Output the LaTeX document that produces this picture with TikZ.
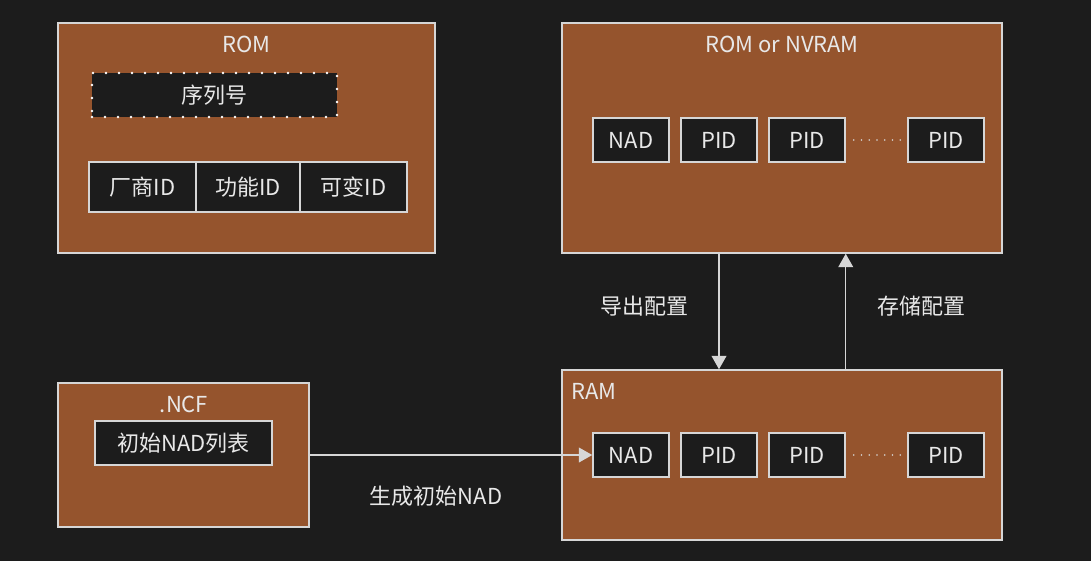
\documentclass[tikz,border=0pt]{standalone}
\usepackage{fontspec}
\setmainfont{Noto Sans CJK SC}
\usepackage{tikz}
\usetikzlibrary{calc,arrows.meta}
\definecolor{bgdark}{HTML}{1C1C1C}
\definecolor{rust}{HTML}{95542D}
\definecolor{edgegray}{HTML}{D6D6D6}
\definecolor{txtgray}{HTML}{E8E8E8}
\tikzset{
	memblock/.style={draw=edgegray,fill=rust,line width=1.1pt,inner sep=0pt},
	cell/.style={draw=edgegray,fill=bgdark,line width=1.1pt,inner sep=0pt,text=txtgray,
		font=\fontsize{16.5}{19}\selectfont},
	ttl/.style={text=txtgray,inner sep=0pt,font=\fontsize{16.5}{19}\selectfont},
	flow/.style={-{Triangle[length=10pt,width=11pt]},draw=edgegray,line width=1.1pt}
}

\begin{document}
\begin{tikzpicture}[x=0.75pt,y=-0.75pt,
			serial/.style={cell,draw=white,line width=2pt,line cap=round,
				dash pattern=on 0pt off 9.75pt},
			slot/.style={cell,minimum width=57pt,minimum height=33pt},
			gap/.style={draw=edgegray,line width=1.3pt,line cap=round,
				dash pattern=on 0pt off 5.8pt,shorten <=6pt,shorten >=4pt}]
			\fill[bgdark] (0,0) rectangle (1091,561);
			\node[memblock,minimum width=282.75pt,minimum height=172.5pt] (rom) at (246.5,138) {};
			\node[ttl] (romttl) at (246.5,44) {ROM};
			\node[serial,minimum width=183.75pt,minimum height=33pt] (sn) at (214.5,95) {序列号};
			\node[cell,minimum width=80.25pt,minimum height=37.5pt] (vid) at (142.5,187) {厂商ID};
			\node[cell,minimum width=78pt,minimum height=37.5pt] (fid) at (248,187) {功能ID};
			\node[cell,minimum width=80.25pt,minimum height=37.5pt] (varid) at (353.5,187) {可变ID};
			\node[memblock,minimum width=330pt,minimum height=172.5pt] (nvram) at (782,138) {};
			\node[ttl] (nvttl) at (782,44) {ROM or NVRAM};
			\node[memblock,minimum width=330pt,minimum height=127.5pt] (ram) at (782,455) {};
			\node[ttl,anchor=west] (ramttl) at (571,391) {RAM};
			\node[memblock,minimum width=188.25pt,minimum height=108pt] (ncf) at (183.5,455) {};
			\node[ttl] (ncfttl) at (184,404) {.NCF};
			\node[cell,minimum width=132.75pt,minimum height=33pt] (initlist) at (183.5,443) {初始NAD列表};
			\foreach \pre/\y in {nv/140,ram/455}{
				\node[slot] (\pre nad) at (631,\y) {NAD};
				\node[slot] (\pre pidA) at (719,\y) {PID};
				\node[slot] (\pre pidB) at (807,\y) {PID};
				\node[slot] (\pre pidC) at (946,\y) {PID};
				\draw[gap] (\pre pidB.east) -- (\pre pidC.west);
			}
			\draw[flow] (nvpidA.center |- nvram.south) -- (nvpidA.center |- ram.north);
			\draw[flow] (nvpidB.east |- ram.north) -- (nvpidB.east |- nvram.south);
			\draw[flow] (ncf.east |- ramnad.west) -- (ramnad.west);
			\node[ttl] (export) at (644,306) {导出配置};
			\node[ttl] (store) at (921,306) {存储配置};
			\node[ttl] (gen) at (436,496) {生成初始NAD};
		\end{tikzpicture}
\end{document}
